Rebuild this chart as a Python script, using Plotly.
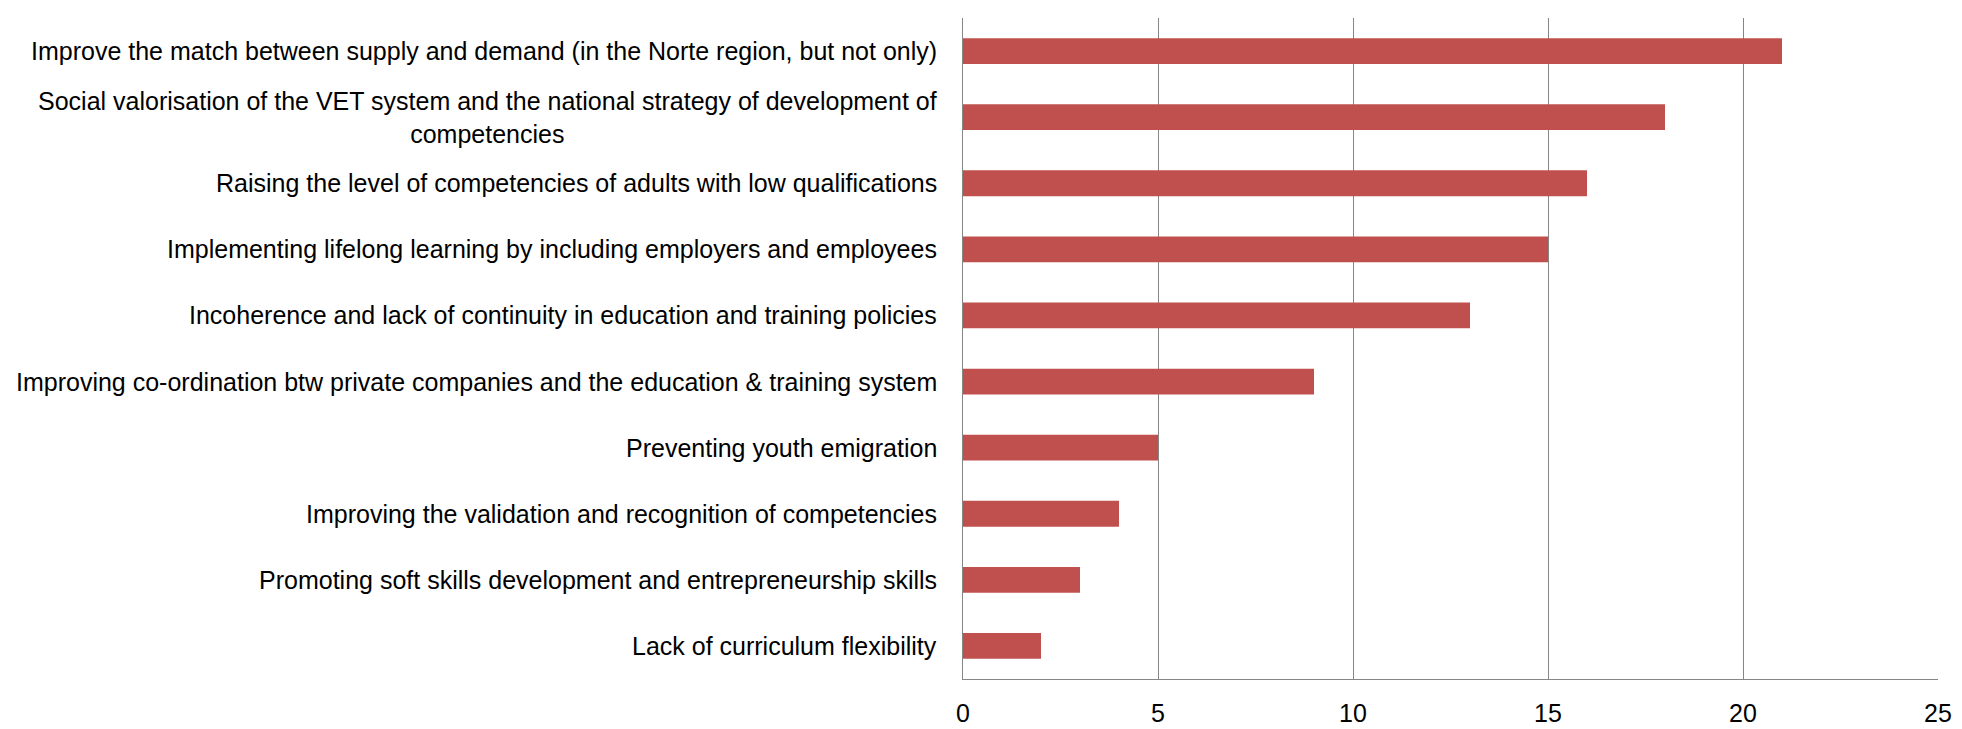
import plotly.graph_objects as go

# priorities, top to bottom
categorias = [
    "Improve the match between supply and demand (in the Norte region, but not only)",
    "Social valorisation of the VET system and the national strategy of development of<br>competencies",
    "Raising the level of competencies of adults with low qualifications",
    "Implementing lifelong learning by including employers and employees",
    "Incoherence and lack of continuity in education and training policies",
    "Improving co-ordination btw private companies and the education & training system",
    "Preventing youth emigration",
    "Improving the validation and recognition of competencies",
    "Promoting soft skills development and entrepreneurship skills",
    "Lack of curriculum flexibility",
]
valores = [21, 18, 16, 15, 13, 9, 5, 4, 3, 2]
ticks_x = [0, 5, 10, 15, 20, 25]

fonte = dict(family="Liberation Sans", size=25, color="#000000")

fig = go.Figure()
fig.add_trace(go.Bar(
    y=list(range(len(categorias))), x=valores, orientation="h",
    marker=dict(color="#C0504D", line=dict(width=0)),
    width=0.39,
))

# category labels as annotations so wrapped lines stay centred
for i, c in enumerate(categorias):
    fig.add_annotation(x=0, y=i, xref="x", yref="y", text=c, showarrow=False,
                       xanchor="right", xshift=-24, align="center", font=fonte)

fig.update_layout(
    width=1962, height=729,
    margin=dict(l=955, r=32, t=10, b=48),
    plot_bgcolor="white", paper_bgcolor="white",
    showlegend=False,
)
fig.update_xaxes(range=[0, 25], tickvals=ticks_x, showgrid=True, gridcolor="#868686",
                 gridwidth=1, zeroline=False, showline=True, linecolor="#868686",
                 tickfont=fonte, ticks="", ticklabelstandoff=12)
fig.update_yaxes(range=[len(categorias) - 0.5, -0.5], showticklabels=False,
                 showgrid=False, zeroline=False, showline=True, linecolor="#868686",
                 ticks="")

fig.write_html("out.html")
